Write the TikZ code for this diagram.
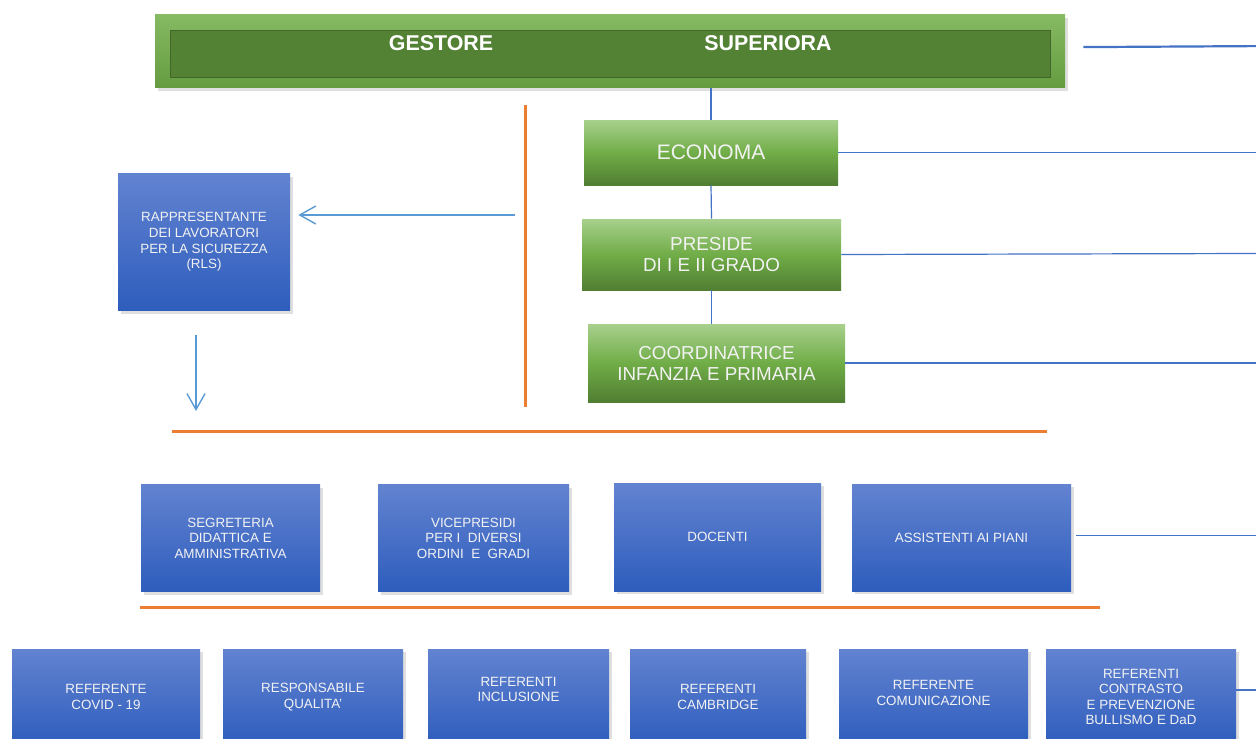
\documentclass[tikz,border=0pt]{standalone}
\usepackage{fontspec}
\setmainfont{Liberation Sans}
\usetikzlibrary{arrows.meta,shadows}
\definecolor{bline}{HTML}{4472C4}
\definecolor{barw}{HTML}{5B9BD5}
\definecolor{orng}{HTML}{ED7D31}
\definecolor{gtop}{HTML}{A8D08D}
\definecolor{gmid}{HTML}{70AD47}
\definecolor{gbot}{HTML}{507E32}
\definecolor{btop}{HTML}{6283D0}
\definecolor{bbot}{HTML}{2E5DBD}
\definecolor{gdark}{HTML}{548235}
\definecolor{txt}{HTML}{F2F2F2}

\begin{document}
\begin{tikzpicture}[x=0.5pt,y=-0.5pt,
    greenbox/.style={top color=gtop,bottom color=gbot,middle color=gmid,text=txt,
      font=\fontsize{9.4}{10.5}\selectfont,align=center,inner sep=0pt},
    bluebox/.style={top color=btop,bottom color=bbot,text=txt,
      font=\fontsize{6.7}{7.8}\selectfont,align=center,inner sep=0pt,
      drop shadow={shadow xshift=1.5pt,shadow yshift=-1.5pt,opacity=0.25}},
    link/.style={bline,line width=0.6pt},
    sep/.style={orng,line width=1.5pt},
    arw/.style={barw,line width=0.7pt,-{Straight Barb[length=8pt,width=9pt]}}]
  \clip (0,0) rectangle (1256,738);
  \fill[white] (0,0) rectangle (1256,738);
  % top
  \node[top color=gmid!85!white,bottom color=gmid!90!black,minimum width=455pt,minimum height=36.5pt,
    drop shadow={shadow xshift=1.5pt,shadow yshift=-1.5pt,opacity=0.25}] (gov) at (610,51.5) {};
  \node[fill=gdark,draw=gdark!80!black,line width=0.3pt,minimum width=440pt,minimum height=23.5pt] (govin) at (610,53.5) {};
  \node[text=white,font=\bfseries\fontsize{10.7}{12}\selectfont] (gest) at (441,43.5) {GESTORE};
  \node[text=white,font=\bfseries\fontsize{10.7}{12}\selectfont] (sup) at (768,43.5) {SUPERIORA};
  % green column
  \node[greenbox,font=\fontsize{10.5}{10.5}\selectfont,minimum width=127pt,minimum height=32.5pt] (econ) at (711,152.5) {ECONOMA};
  \node[greenbox,minimum width=129.5pt,minimum height=35.5pt] (pres) at (711.5,254.5) {PRESIDE\\DI I E II GRADO};
  \node[greenbox,minimum width=128.5pt,minimum height=39pt] (coord) at (716.5,363) {COORDINATRICE\\INFANZIA E PRIMARIA};
  \draw[link] (econ.north |- gov.south) -- (econ.north);
  \draw[link] (econ.south) -- (pres.north);
  \draw[link] (pres.south) -- (pres.south |- coord.north);
  % RLS
  \node[bluebox,minimum width=86pt,minimum height=68.5pt] (rls) at (204,242) {RAPPRESENTANTE\\DEI LAVORATORI\\PER LA SICUREZZA\\(RLS)};
  \coordinate (rlsin) at (515,215);
  \coordinate (rlsout) at (196,411);
  \draw[arw,shorten >=4pt] (rlsin) -- (rlsin -| rls.east);
  \draw[arw,shorten <=12pt] (rlsout |- rls.south) -- (rlsout);
  % separators
  \draw[sep] (525,105) -- (525,407);
  \draw[sep] (172,431) -- (1047,431);
  \draw[sep] (140,607) -- (1100,607);
  % second row
  \node[bluebox,minimum width=89.5pt,minimum height=53.5pt] (segr) at (230.5,538) {SEGRETERIA\\DIDATTICA E\\AMMINISTRATIVA};
  \node[bluebox,minimum width=95.5pt,minimum height=53.5pt] (vice) at (473.5,538) {VICEPRESIDI\\PER I\ \ DIVERSI\\ORDINI\ \ E\ \ GRADI};
  \node[bluebox,minimum width=103.5pt,minimum height=54pt] (doc) at (717.5,537) {DOCENTI};
  \node[bluebox,minimum width=109.5pt,minimum height=53.5pt] (assi) at (961.5,537.5) {ASSISTENTI AI PIANI};
  % third row
  \node[bluebox,minimum width=94pt,minimum height=48pt] (covid) at (106,697) {REFERENTE\\COVID - 19};
  \node[bluebox,minimum width=90pt,minimum height=48pt] (qual) at (313,697) {RESPONSABILE\\QUALITA'};
  \node[bluebox,minimum width=90.5pt,minimum height=48pt,text depth=7.5pt] (incl) at (518.5,697) {REFERENTI\\INCLUSIONE};
  \node[bluebox,minimum width=88pt,minimum height=48pt] (camb) at (718,697) {REFERENTI\\CAMBRIDGE};
  \node[bluebox,minimum width=94.5pt,minimum height=48pt,text depth=4pt] (comu) at (933.5,697) {REFERENTE\\COMUNICAZIONE};
  \node[bluebox,minimum width=95pt,minimum height=48pt] (bull) at (1141,697) {REFERENTI\\CONTRASTO\\E PREVENZIONE\\BULLISMO E DaD};
  % lines to the right
  \coordinate (edge) at (1256,0);
  \draw[bline,line width=1.1pt] ([xshift=9pt,yshift=2.2pt]gov.east) -- ([yshift=2.7pt]gov.east -| edge);
  \draw[link] (econ.east) -- (econ.east -| edge);
  \draw[link] (pres.east) -- ([yshift=0.5pt]pres.east -| edge);
  \draw[link] (coord.east) -- (coord.east -| edge);
  \draw[link] ([xshift=2.5pt,yshift=1pt]assi.east) -- ([yshift=1pt]assi.east -| edge);
  \draw[link] ([yshift=3.5pt]bull.east) -- ([yshift=3.5pt]bull.east -| edge);
\end{tikzpicture}
\end{document}
